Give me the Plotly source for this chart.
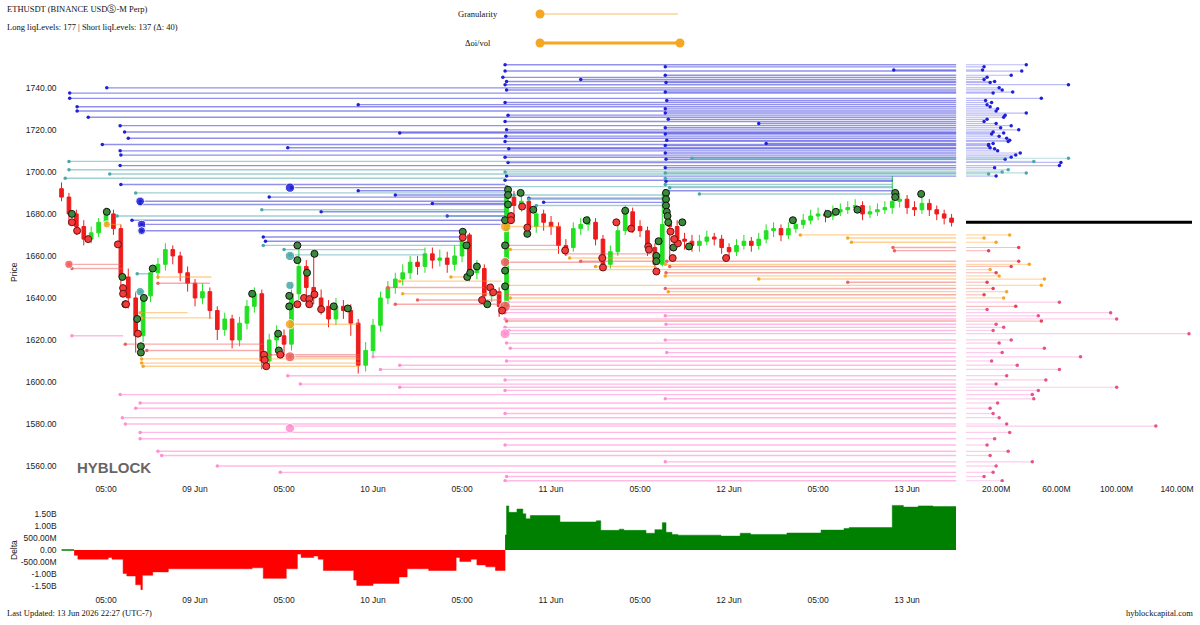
import math
import pandas as pd
import plotly.graph_objects as go

T0 = pd.Timestamp("2026-06-08 06:00")   # hour 0 of the series
H_END = 120.65                           # right edge of the chart, hours after T0

# hourly candles from 08 Jun 06:00
first_open = 1692
close = [1688, 1680, 1674, 1668, 1671, 1676, 1680, 1673, 1650, 1640,
         1622, 1641, 1652, 1656, 1663, 1660, 1652, 1647, 1640, 1643,
         1634, 1625, 1630, 1620, 1628, 1636, 1642, 1610, 1620, 1622,
         1618, 1642, 1655, 1645, 1640, 1636, 1630, 1636, 1634, 1628,
         1608, 1615, 1627, 1640, 1645, 1649, 1652, 1657, 1655, 1661,
         1658, 1659, 1656, 1660, 1670, 1652, 1654, 1641, 1643, 1636,
         1688, 1684, 1686, 1674, 1680, 1676, 1674, 1665, 1664, 1673,
         1675, 1676, 1668, 1656, 1662, 1672, 1681, 1674, 1672, 1664,
         1656, 1675, 1674, 1668, 1667, 1665, 1667, 1669, 1668, 1664,
         1662, 1665, 1667, 1665, 1668, 1672, 1673, 1670, 1673, 1675,
         1677, 1679, 1680, 1679, 1681, 1682, 1683, 1684, 1680, 1681,
         1682, 1683, 1686, 1687, 1683, 1682, 1685, 1682, 1680, 1678,
         1676]
high = [1695, 1690, 1682, 1677, 1674, 1678, 1683, 1682, 1675, 1654,
        1643, 1644, 1655, 1659, 1666, 1665, 1662, 1655, 1649, 1647,
        1645, 1636, 1633, 1632, 1631, 1639, 1645, 1644, 1623, 1627,
        1625, 1646, 1666, 1658, 1662, 1644, 1639, 1640, 1639, 1637,
        1630, 1619, 1630, 1643, 1648, 1652, 1656, 1660, 1660, 1664,
        1664, 1663, 1662, 1665, 1673, 1671, 1658, 1656, 1647, 1645,
        1692, 1691, 1690, 1688, 1684, 1682, 1679, 1676, 1668, 1676,
        1678, 1679, 1678, 1670, 1665, 1676, 1684, 1683, 1677, 1674,
        1666, 1690, 1680, 1677, 1671, 1670, 1670, 1672, 1671, 1670,
        1666, 1668, 1670, 1669, 1671, 1675, 1676, 1675, 1676, 1678,
        1680, 1682, 1683, 1682, 1684, 1685, 1686, 1687, 1686, 1684,
        1685, 1686, 1698, 1690, 1689, 1686, 1690, 1687, 1684, 1682,
        1680]
low = [1686, 1675, 1670, 1665, 1666, 1669, 1674, 1670, 1646, 1635,
       1614, 1619, 1638, 1649, 1653, 1656, 1648, 1643, 1636, 1637,
       1630, 1620, 1622, 1616, 1617, 1625, 1633, 1606, 1607, 1616,
       1612, 1615, 1639, 1637, 1637, 1632, 1626, 1627, 1630, 1622,
       1604, 1605, 1612, 1624, 1637, 1642, 1646, 1649, 1651, 1652,
       1654, 1655, 1652, 1653, 1657, 1648, 1649, 1637, 1638, 1631,
       1634, 1677, 1681, 1670, 1671, 1672, 1670, 1661, 1660, 1662,
       1670, 1672, 1665, 1654, 1654, 1660, 1670, 1671, 1669, 1660,
       1652, 1655, 1658, 1664, 1663, 1662, 1662, 1665, 1665, 1661,
       1659, 1660, 1663, 1662, 1663, 1666, 1669, 1667, 1668, 1671,
       1673, 1675, 1677, 1676, 1677, 1679, 1680, 1681, 1677, 1678,
       1679, 1680, 1680, 1683, 1680, 1679, 1680, 1679, 1677, 1675,
       1674]

# liquidation levels still open: price, start hour, size (M)
blue_open_price = [1740, 1737.5, 1735, 1731, 1729, 1726, 1722, 1719, 1716, 1713, 1710, 1708, 1703,
                   1751, 1748, 1745, 1743, 1741.5, 1739, 1733, 1727, 1724, 1720, 1717, 1714.5, 1711, 1707, 1704.5, 1698,
                   1750, 1746, 1742.5, 1738, 1734, 1730, 1728, 1725, 1721, 1718, 1715, 1712.5, 1709, 1706, 1702,
                   1744, 1723, 1713.5, 1748.5, 1718.5, 1732, 1711.5]
blue_open_start = [6.1, 1.1, 1.1, 2.1, 2.1, 3.6, 7.9, 8.5, 9.0, 5.5, 7.9, 8.0, 7.9,
                   59.8, 59.8, 59.5, 60.0, 59.8, 60.0, 59.8, 60.2, 59.8, 60.0, 59.9, 59.8, 60.3, 59.8, 60.2, 60.0,
                   81.4, 81.4, 81.5, 81.4, 81.6, 81.4, 81.4, 81.8, 81.4, 81.4, 81.6, 81.4, 81.4, 81.5, 81.4,
                   70.0, 94.0, 95.0, 112.2, 45.6, 40.0, 30.5]
blue_open_size = [22, 18, 50, 16, 20, 25, 30, 18, 27, 15, 21, 33, 62,
                  40, 37, 14, 19, 68, 24, 17, 26, 12, 35, 22, 28, 19, 30, 63, 20,
                  12, 30, 16, 31, 13, 21, 40, 14, 23, 17, 29, 15, 36, 26, 19,
                  12, 20, 18, 11, 25, 14, 16]
teal_open_price = [1705, 1701, 1699, 1700, 1699.5, 1706.5]
teal_open_start = [1.0, 1.0, 6.5, 59.8, 81.4, 85.0]
teal_open_size = [45, 28, 15, 24, 40, 68]
orange_open_price = [1670, 1668.5, 1666.5, 1656, 1653.5, 1650.5, 1649, 1646, 1643, 1640]
orange_open_start = [99.6, 106.0, 106.5, 81.4, 60.0, 81.4, 94.0, 60.2, 81.8, 60.5]
orange_open_size = [29, 12, 20, 42, 16, 22, 52, 50, 27, 25]
red_open_price = [1664, 1662.5, 1657.5, 1655, 1652, 1647.5, 1644.5, 1641.5, 1636, 1629]
red_open_start = [112.1, 112.3, 81.6, 82.0, 81.5, 106.0, 81.4, 60.0, 59.8, 60.0]
red_open_size = [35, 15, 35, 30, 20, 14, 18, 12, 33, 50]
pink_open_price = [1638, 1634.5, 1633, 1631.5, 1630, 1627.5, 1626, 1624.5, 1623, 1620,
                   1618.5, 1616, 1614, 1612, 1610, 1608, 1606, 1603, 1601, 1599,
                   1597.5, 1596, 1594, 1592, 1590, 1587.5, 1585, 1583, 1580, 1579,
                   1576, 1573, 1570, 1567, 1565, 1562, 1560, 1557, 1555, 1553]
pink_open_start = [60.2, 60.0, 59.8, 81.4, 59.8, 81.5, 59.8, 60.3, 59.8, 81.4,
                   60.0, 60.5, 81.6, 42.0, 60.0, 45.6, 43.0, 30.5, 59.8, 32.2,
                   45.6, 59.8, 7.9, 81.4, 10.6, 10.0, 59.8, 8.2, 8.6, 30.8,
                   10.6, 10.6, 59.8, 13.0, 13.5, 81.4, 21.0, 29.5, 60.0, 59.8]
pink_open_size = [62, 14, 96, 48, 100, 20, 25, 18, 148, 30,
                  22, 52, 24, 76, 17, 34, 62, 27, 53, 20,
                  100, 48, 44, 45, 21, 16, 18, 22, 27, 126,
                  29, 19, 14, 28, 16, 44, 20, 18, 12, 24]

# liquidation levels already hit: price, start hour, end hour
blue_gone_price = [1694, 1692.5, 1688, 1686, 1684.5, 1677, 1675, 1672, 1669, 1667,
                   1691, 1689, 1685, 1681, 1679, 1695.5, 1691, 1696, 1687.5, 1685.5]
blue_gone_start = [8.0, 31.0, 28.0, 10.6, 10.6, 9.5, 10.8, 10.8, 27.2, 27.5,
                   40.0, 45.0, 50.0, 35.0, 52.0, 81.5, 81.4, 59.8, 63.0, 65.0]
blue_gone_end = [59.8, 59.8, 59.8, 59.8, 59.8, 59.8, 59.8, 54.1, 54.1, 54.1,
                 59.8, 59.8, 59.8, 59.8, 59.8, 112.1, 112.1, 112.1, 81.4, 81.4]
teal_gone_price = [1697, 1690, 1682, 1679, 1665, 1663, 1660.5, 1651.5, 1643,
                   1697, 1694, 1692.5, 1689.5, 1693, 1689, 1687, 1684]
teal_gone_start = [0.5, 10.0, 27.0, 7.5, 27.2, 30.0, 30.8, 10.2, 10.6,
                   81.4, 81.4, 82.0, 86.0, 60.0, 61.0, 63.0, 64.0]
teal_gone_end = [59.8, 59.8, 59.8, 59.8, 54.1, 49.0, 49.0, 12.0, 11.2,
                 112.1, 112.1, 112.1, 112.1, 112.1, 81.4, 81.4, 81.4]
orange_gone_price = [1650, 1633, 1630.5, 1611, 1609, 1607.5, 1648, 1642, 1650, 1663, 1659, 1655, 1627.5, 1674, 1675]
orange_gone_start = [13.0, 10.6, 10.8, 10.8, 10.8, 11.0, 45.6, 46.0, 52.5, 60.5, 68.5, 72.0, 30.8, 59.9, 6.1]
orange_gone_end = [20.2, 17.0, 20.5, 40.2, 40.2, 40.2, 59.3, 59.3, 55.2, 67.2, 80.0, 80.2, 40.0, 67.2, 8.0]
red_gone_price = [1654, 1647, 1618, 1615, 1613, 1645, 1639, 1637, 1665, 1661, 1657.5, 1612, 1657, 1656]
red_gone_start = [1.4, 13.0, 8.6, 11.5, 28.1, 44.0, 48.0, 45.0, 60.2, 68.0, 70.0, 30.8, 59.8, 1.0]
red_gone_end = [8.3, 20.0, 27.2, 27.2, 40.2, 57.0, 59.3, 59.3, 67.2, 80.0, 80.0, 40.2, 73.0, 8.0]
pink_gone_price = [1622]
pink_gone_start = [1.4]
pink_gone_end = [8.3]

# larger liquidation clusters
big_h = [30.8, 10.6, 10.8, 10.8, 30.8, 10.6, 59.9, 30.8, 30.8, 59.8, 59.8, 59.8, 30.8, 1.0, 6.1, 30.8]
big_price = [1692.5, 1686, 1675, 1672, 1660, 1643, 1674, 1627.5, 1612, 1657, 1636, 1623, 1578, 1656, 1675, 1646]
big_grp = ["blue", "blue", "blue", "blue", "teal", "teal", "orange", "orange",
           "red", "red", "red", "pink", "pink", "red", "orange", "teal"]
big_weight = [80, 60, 50, 40, 80, 55, 120, 80, 100, 80, 120, 100, 80, 50, 30, 50]

# large trades on price
buy_h = [1.4, 6.1, 8.2, 8.6, 10.2, 10.7, 10.7, 11.1, 12.3, 25.7,
         29.2, 29.3, 30.7, 30.7, 31.8, 31.8, 34.1, 33.1, 36.7, 38.6,
         54.1, 54.6, 54.7, 55.1, 56.0, 57.4, 59.8, 59.8, 59.8, 59.8,
         60.2, 60.2, 60.2, 61.9, 62.8, 63.6, 70.8, 76.0, 80.2, 80.2,
         80.5, 81.5, 81.5, 81.5, 81.6, 81.7, 81.8, 83.7, 82.5, 84.6,
         112.4, 112.4, 115.9, 98.6, 103.3, 104.4, 107.3]
buy_price = [1680, 1681, 1650, 1637, 1630, 1617, 1614, 1640, 1654, 1642,
             1623, 1615, 1641, 1636, 1658, 1665, 1661, 1652, 1636, 1635,
             1671.5, 1665, 1650, 1652, 1655, 1637, 1645.5, 1653, 1665, 1677,
             1691.5, 1689, 1684.5, 1690, 1670.5, 1682, 1677, 1681.5, 1660, 1657.5,
             1667, 1690, 1687, 1684, 1681, 1679, 1676, 1676, 1664, 1664.5,
             1690, 1688, 1689.5, 1677, 1680, 1681, 1682]
sell_h = [1.4, 2.1, 3.6, 7.6, 8.3, 8.3, 8.7, 10.3, 27.3, 27.4,
          27.6, 29.5, 31.8, 32.7, 33.4, 33.4, 34.1, 35.0, 54.1, 56.7,
          57.8, 58.2, 59.4, 60.6, 60.6, 62.1, 62.8, 67.9, 72.9, 73.0,
          74.8, 76.8, 79.1, 79.2, 80.2, 82.1, 82.4, 83.1, 82.6, 89.6]
sell_price = [1676, 1672, 1668, 1665.5, 1644.7, 1642, 1637, 1623, 1613, 1610.5,
              1607.5, 1613, 1637, 1640, 1639.5, 1637, 1641.7, 1634.6, 1668.8, 1639,
              1645, 1642.7, 1634, 1679, 1677, 1683.5, 1673.5, 1662.6, 1659, 1654.5,
              1676, 1673, 1664.5, 1663, 1652.6, 1671.6, 1659, 1666, 1668, 1659]

# cumulative delta (billions), stepwise
delta_h = [0.0, 1.7, 2.2, 6.3, 6.8, 8.3, 8.8, 10.0, 10.7, 10.9,
           12.3, 14.4, 25.7, 27.2, 30.3, 31.8, 32.3, 34.0, 34.6, 35.3,
           39.4, 39.8, 42.0, 45.5, 46.6, 49.5, 53.2, 53.7, 55.2, 56.0,
           57.2, 58.5, 59.8, 60.0, 60.3, 61.4, 62.2, 62.6, 63.2, 67.2,
           72.1, 72.7, 75.2, 75.8, 78.8, 80.0, 81.0, 81.5, 82.3, 83.1,
           88.9, 91.5, 92.9, 97.8, 102.4, 105.5, 106.2, 112.0, 113.5, 115.5,
           117.5, 120.6]
delta_b = [0.0, -0.22, -0.38, -0.31, -0.38, -0.98, -1.08, -1.45, -1.65, -1.05,
           -0.91, -0.78, -0.74, -1.18, -0.78, -0.17, -0.31, -0.25, -0.38, -0.85,
           -1.25, -1.48, -1.39, -1.12, -0.78, -0.85, -0.31, -0.48, -0.38, -0.62,
           -0.70, -0.85, 0.63, 1.84, 1.57, 1.71, 1.51, 1.30, 1.44, 1.17,
           1.22, 0.82, 0.87, 0.82, 0.70, 0.85, 1.14, 0.74, 0.65, 0.62,
           0.58, 0.70, 0.65, 0.71, 0.83, 0.90, 0.94, 1.86, 1.79, 1.84,
           1.81, 1.81]

x_tick_h = [6, 18, 30, 42, 54, 66, 78, 90, 102, 114]
x_tick_text = ["05:00", "09 Jun", "05:00", "10 Jun", "05:00", "11 Jun", "05:00", "12 Jun", "05:00", "13 Jun"]
delta_ticks = [-1.5, -1.0, -0.5, 0, 0.5, 1.0, 1.5]
delta_tick_text = ["-1.50B", "-1.00B", "-500.00M", "0.00", "500.00M", "1.00B", "1.50B"]
side_ticks = [20, 60, 100, 140]
side_tick_text = ["20.00M", "60.00M", "100.00M", "140.00M"]

LINE = {"blue": "rgba(35,35,215,0.5)", "teal": "rgba(70,160,165,0.5)",
        "orange": "rgba(255,160,40,0.5)", "red": "rgba(240,90,90,0.5)",
        "pink": "rgba(255,120,200,0.5)"}
SIDE = {"blue": "rgba(60,60,225,0.35)", "teal": "rgba(80,170,175,0.4)",
        "orange": "rgba(255,170,60,0.45)", "red": "rgba(240,100,100,0.4)",
        "pink": "rgba(250,130,210,0.4)"}
DOT = {"blue": "#1f1fd8", "teal": "#4aa8a8", "orange": "#f5a623",
       "red": "#f06060", "pink": "#ff8fd0"}
SIDE_DOT = {"blue": "#1f1fd8", "teal": "#4aa8a8", "orange": "#f5a623",
            "red": "#e8405a", "pink": "#e8508a"}


def at(hours):
    return [T0 + pd.Timedelta(hours=h) for h in hours]


def segments(prices, starts, ends):
    xs, ys = [], []
    for p, s, e in zip(prices, starts, ends):
        xs += at([s, e]) + [None]
        ys += [p, p, None]
    return xs, ys


groups = [
    ("blue", blue_open_price, blue_open_start, blue_open_size, blue_gone_price, blue_gone_start, blue_gone_end),
    ("teal", teal_open_price, teal_open_start, teal_open_size, teal_gone_price, teal_gone_start, teal_gone_end),
    ("orange", orange_open_price, orange_open_start, orange_open_size, orange_gone_price, orange_gone_start, orange_gone_end),
    ("red", red_open_price, red_open_start, red_open_size, red_gone_price, red_gone_start, red_gone_end),
    ("pink", pink_open_price, pink_open_start, pink_open_size, pink_gone_price, pink_gone_start, pink_gone_end),
]

fig = go.Figure()

for name, op, os_, osz, gp, gs, ge in groups:
    xs, ys = segments(op + gp, os_ + gs, [H_END] * len(op) + ge)
    fig.add_trace(go.Scatter(x=xs, y=ys, mode="lines", line=dict(color=LINE[name], width=1.4),
                             hoverinfo="skip"))
    fig.add_trace(go.Scatter(x=at(os_ + gs), y=op + gp, mode="markers",
                             marker=dict(color=DOT[name], size=3.5), hoverinfo="skip"))
    # side panel: remaining size per level
    sx, sy = [], []
    for p, v in zip(op, osz):
        sx += [0, v, None]
        sy += [p, p, None]
    fig.add_trace(go.Scatter(x=sx, y=sy, mode="lines", line=dict(color=SIDE[name], width=1.2),
                             xaxis="x2", yaxis="y2", hoverinfo="skip"))
    fig.add_trace(go.Scatter(x=osz, y=op, mode="markers", marker=dict(color=SIDE_DOT[name], size=3.5),
                             xaxis="x2", yaxis="y2"))

fig.add_trace(go.Scatter(
    x=at(big_h), y=big_price, mode="markers",
    marker=dict(color=[DOT[g] for g in big_grp], size=[4 + 0.6 * math.sqrt(w) for w in big_weight],
                opacity=0.85),
    hoverinfo="skip"))

opens = [first_open] + close[:-1]
fig.add_trace(go.Candlestick(
    x=at(range(len(close))), open=opens, high=high, low=low, close=close,
    increasing=dict(line=dict(color="#22e022", width=1), fillcolor="#22e022"),
    decreasing=dict(line=dict(color="#ee1c1c", width=1), fillcolor="#ee1c1c"),
    whiskerwidth=0))

fig.add_trace(go.Scatter(x=at(buy_h), y=buy_price, mode="markers",
                         marker=dict(color="#3a8a3a", size=7, line=dict(color="#111", width=1))))
fig.add_trace(go.Scatter(x=at(sell_h), y=sell_price, mode="markers",
                         marker=dict(color="#f23c3c", size=7, line=dict(color="#6a1010", width=1))))

# delta panel
k = next(i for i, v in enumerate(delta_b) if v > 0)
fig.add_trace(go.Scatter(x=at(delta_h[:2]), y=[0, 0], mode="lines",
                         line=dict(color="#008000", width=1.5), xaxis="x3", yaxis="y3"))
fig.add_trace(go.Scatter(x=at(delta_h[1:k + 1]), y=delta_b[1:k] + [0], mode="lines",
                         line=dict(color="#ff0000", width=0.5, shape="hv"), fill="tozeroy",
                         fillcolor="#ff0000", xaxis="x3", yaxis="y3"))
fig.add_trace(go.Scatter(x=at(delta_h[k:]), y=delta_b[k:], mode="lines",
                         line=dict(color="#008000", width=0.5, shape="hv"), fill="tozeroy",
                         fillcolor="#008000", xaxis="x3", yaxis="y3"))

W, H = 1200, 625


def px(x):
    return x / W


def py(y):
    return 1 - y / H


x_range = at([-0.53, H_END])
main_dom = [px(57.6), px(956.4)]
price_dom = [py(482), py(62)]
tick_font = dict(family="Liberation Sans, Arial", size=8.5, color="#222")
axis_common = dict(showgrid=False, zeroline=False, showline=False, ticks="", tickfont=tick_font)

fig.update_layout(
    width=W, height=H, margin=dict(l=0, r=0, t=0, b=0),
    paper_bgcolor="white", plot_bgcolor="white", showlegend=False,
    xaxis=dict(domain=main_dom, range=x_range, anchor="y", tickvals=at(x_tick_h), ticktext=x_tick_text,
               rangeslider=dict(visible=False), **axis_common),
    yaxis=dict(domain=price_dom, range=[1552.4, 1752.3], anchor="x", tick0=1560, dtick=20,
               tickformat=".2f", **axis_common),
    xaxis2=dict(domain=[px(966), px(1192)], range=[0, 150], anchor="y2", tickvals=side_ticks,
                ticktext=side_tick_text, **axis_common),
    yaxis2=dict(domain=price_dom, matches="y", anchor="x2", showticklabels=False, **axis_common),
    xaxis3=dict(domain=main_dom, matches="x", anchor="y3", tickvals=at(x_tick_h), ticktext=x_tick_text,
                **axis_common),
    yaxis3=dict(domain=[py(593), py(503)], range=[-1.79, 1.96], anchor="x3", tickvals=delta_ticks,
                ticktext=delta_tick_text, **axis_common),
)

# current price marker in side panel
fig.add_shape(type="line", xref="x2 domain", x0=0, x1=1, yref="y2", y0=close[-1], y1=close[-1],
              line=dict(color="black", width=3))

# slider widgets at the top
slider_light = "#f9d49a"
slider_main = "#f5a623"
fig.add_shape(type="line", xref="paper", yref="paper", x0=px(540), x1=px(678), y0=py(14), y1=py(14),
              line=dict(color=slider_light, width=1.5))
fig.add_shape(type="line", xref="paper", yref="paper", x0=px(540), x1=px(680), y0=py(43), y1=py(43),
              line=dict(color=slider_main, width=3))
for cx, cy in [(540, 14), (540, 43), (680, 43)]:
    fig.add_shape(type="circle", xref="paper", yref="paper", xsizemode="pixel", ysizemode="pixel",
                  xanchor=px(cx), yanchor=py(cy), x0=-4.5, x1=4.5, y0=-4.5, y1=4.5,
                  fillcolor=slider_main, line=dict(width=0))

serif = dict(family="Liberation Serif, Times New Roman", size=8.5, color="#111")
notes = [
    (5, 9, "ETHUSDT (BINANCE USDⓈ-M Perp)", "left"),
    (5, 27, "Long liqLevels: 177 | Short liqLevels: 137 (Δ: 40)", "left"),
    (478, 14, "Granularity", "center"),
    (478, 43, "Δoi/vol", "center"),
    (5, 613, "Last Updated: 13 Jun 2026 22:27 (UTC-7)", "left"),
    (1195, 613, "hyblockcapital.com", "right"),
]
for x, y, txt, align in notes:
    fig.add_annotation(x=px(x), y=py(y), xref="paper", yref="paper", text=txt, showarrow=False,
                       xanchor=align, yanchor="middle", font=serif)

for y, txt in [(272, "Price"), (550, "Delta")]:
    fig.add_annotation(x=px(14), y=py(y), xref="paper", yref="paper", text=txt, showarrow=False,
                       textangle=-90, xanchor="center", yanchor="middle",
                       font=dict(family="Liberation Sans, Arial", size=8.5, color="#222"))

fig.add_annotation(x=px(75), y=py(467), xref="paper", yref="paper", text="<b>HYBLOCK</b>",
                   showarrow=False, xanchor="left", yanchor="middle",
                   font=dict(family="Liberation Sans, Arial", size=15, color="#666"))

# page body has a default margin; drop it so the figure sits at the window origin
fig.write_html("out.html", config={"displayModeBar": False},
               post_script="document.body.style.margin='0';")
